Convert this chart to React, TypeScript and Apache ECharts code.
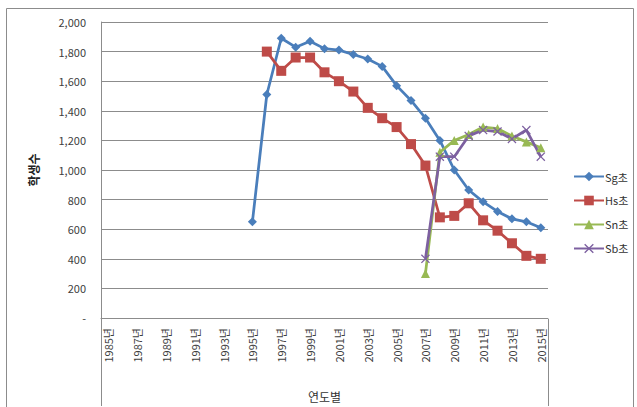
import React, { useEffect, useRef } from "react";
import * as echarts from "echarts";

const years: string[] = [];
for (let y = 1985; y <= 2015; y++) years.push(y + "년");

const seriesNames = ["Sg초", "Hs초", "Sn초", "Sb초"];
// values from 1995 onward (1985–1994 empty)
const sgValues = [650, 1510, 1890, 1830, 1870, 1820, 1810, 1780, 1750, 1700, 1570, 1470, 1350, 1200, 1000, 865, 785, 720, 670, 650, 610];
const hsValues = [null, 1800, 1670, 1760, 1760, 1660, 1600, 1530, 1420, 1350, 1290, 1175, 1030, 680, 690, 775, 660, 590, 505, 420, 400];
const snValues = [300, 1120, 1200, 1240, 1290, 1280, 1230, 1190, 1150]; // 2007–2015
const sbValues = [400, 1090, 1090, 1230, 1270, 1260, 1210, 1270, 1090]; // 2007–2015

const yTicks = { min: 0, max: 2000, interval: 200 };

function pad(startYear: number, vals: (number | null)[]) {
  const out: (number | null)[] = [];
  for (let y = 1985; y <= 2015; y++) {
    const i = y - startYear;
    out.push(i >= 0 && i < vals.length ? vals[i] : null);
  }
  return out;
}

const colors = ["#4A7EBB", "#BE4B48", "#98B954", "#7D60A0"];
const xSymbol = "path://M0,1L1,0L5,4L9,0L10,1L6,5L10,9L9,10L5,6L1,10L0,9L4,5Z";
const FONT = "'Noto Sans CJK KR', 'Noto Sans', sans-serif";

export default function App() {
  const ref = useRef<HTMLDivElement>(null);
  useEffect(() => {
    if (!ref.current) return;
    const chart = echarts.init(ref.current, undefined, { renderer: "svg" });
    const data = [pad(1995, sgValues), pad(1995, hsValues), pad(2007, snValues), pad(2007, sbValues)];
    const symbols = ["diamond", "rect", "triangle", xSymbol];
    const sizes = [9, 10, 9, 9];
    chart.setOption({
      animation: false,
      backgroundColor: "#fff",
      textStyle: { fontFamily: FONT },
      grid: { left: 101, top: 22, right: 89, bottom: 88, containLabel: false },
      legend: {
        orient: "vertical",
        left: 568,
        top: 166,
        itemWidth: 30,
        itemHeight: 12,
        itemGap: 13,
        textStyle: { fontSize: 11, color: "#333", fontFamily: FONT, padding: [0, 0, 0, -4] },
        data: seriesNames,
      },
      xAxis: {
        type: "category",
        data: years,
        boundaryGap: true,
        axisLine: { show: true, lineStyle: { color: "#8c8c8c", width: 1 } },
        axisTick: { show: false },
        axisLabel: { interval: 1, rotate: 90, margin: 10, fontSize: 11, color: "#404040", fontFamily: FONT },
        name: "연도별",
        nameLocation: "middle",
        nameGap: 72,
        nameTextStyle: { fontSize: 12, color: "#333", fontFamily: FONT },
      },
      yAxis: {
        type: "value",
        min: yTicks.min,
        max: yTicks.max,
        interval: yTicks.interval,
        axisLine: { show: true, lineStyle: { color: "#8c8c8c", width: 1 } },
        axisTick: { show: false },
        splitLine: { show: true, lineStyle: { color: "#8c8c8c", width: 1 } },
        axisLabel: {
          margin: 15,
          fontSize: 11,
          color: "#404040",
          fontFamily: FONT,
          formatter: (v: number) => (v === 0 ? "-" : v.toLocaleString("en-US")),
        },
        name: "학생수",
        nameLocation: "middle",
        nameRotate: 90,
        nameGap: 62,
        nameTextStyle: { fontSize: 12, fontWeight: "bold", color: "#222", fontFamily: FONT },
      },
      series: seriesNames.map((n, i) => ({
        name: n,
        type: "line",
        data: data[i],
        symbol: symbols[i],
        symbolSize: sizes[i],
        showSymbol: true,
        showAllSymbol: true,
        connectNulls: false,
        lineStyle: { color: colors[i], width: 2.75 },
        itemStyle: { color: colors[i] },
      })),
      graphic: [
        { type: "rect", shape: { x: 6.5, y: 8.5, width: 627, height: 410 }, style: { fill: "none", stroke: "#8c8c8c", lineWidth: 1 }, silent: true },
        { type: "line", shape: { x1: 101.5, y1: 319, x2: 101.5, y2: 406 }, style: { stroke: "#8c8c8c", lineWidth: 1 }, silent: true },
        { type: "line", shape: { x1: 548.5, y1: 319, x2: 548.5, y2: 406 }, style: { stroke: "#8c8c8c", lineWidth: 1 }, silent: true },
      ],
    });
    return () => chart.dispose();
  }, []);
  return <div ref={ref} style={{ position: "absolute", left: 0, top: 0, width: 637, height: 407, background: "#fff" }} />;
}
